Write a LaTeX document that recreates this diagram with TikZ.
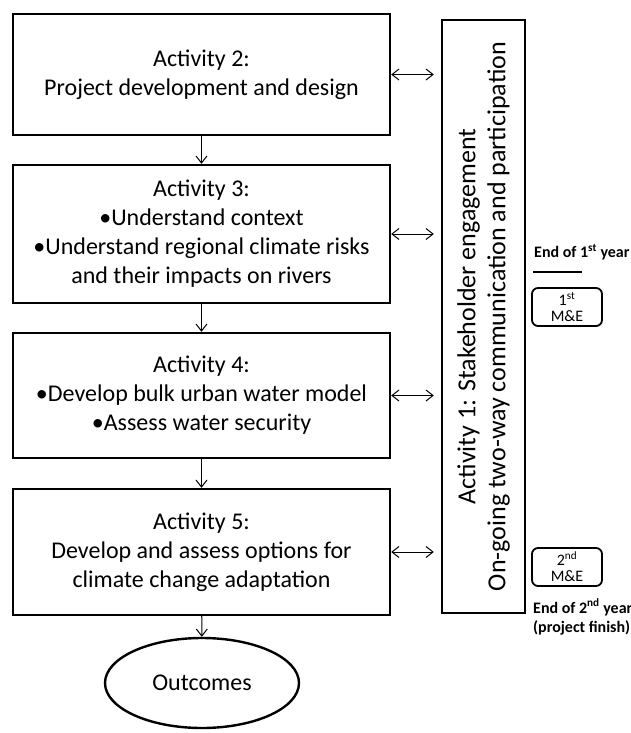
\documentclass[tikz,border=0pt]{standalone}
\usepackage{fontspec}
\setmainfont{Carlito}
\usetikzlibrary{arrows.meta,shapes.geometric}

\begin{document}
\begin{tikzpicture}[%
    x=1pt, y=-1pt,
    actbox/.style={%
        draw,
        line width=2.4pt,
        minimum width=377pt,
        align=center,
        inner sep=0pt,
        font=\fontsize{24}{29}\selectfont,
    },
    mebox/.style={%
        draw,
        rounded corners=6pt,
        line width=1.8pt,
        minimum width=70pt,
        minimum height=38pt,
        align=center,
        inner sep=0pt,
        font=\fontsize{16}{16}\selectfont,
    },
    note/.style={%
        anchor=west,
        align=left,
        inner sep=0pt,
        font=\fontsize{16}{19}\selectfont\bfseries,
    },
    flow/.style={-{Straight Barb[length=7pt,width=11pt]}, line width=1pt},
    both/.style={{Straight Barb[length=7pt,width=11pt]}-{Straight Barb[length=7pt,width=11pt]}, line width=1pt},
]
\useasboundingbox (0,0) rectangle (631,733);

% activities
\node[actbox, minimum height=121pt] (act2) at (201.5,74.5)
    {Activity 2:\\Project development and design};
\node[actbox, minimum height=138pt] (act3) at (201.5,234)
    {Activity 3:\\\textbullet Understand context\\\textbullet Understand regional climate risks\\and their impacts on rivers};
\node[actbox, minimum height=125pt] (act4) at (201.5,395.5)
    {Activity 4:\\\textbullet Develop bulk urban water model\\\textbullet Assess water security};
\node[actbox, minimum height=126pt] (act5) at (201.5,552)
    {Activity 5:\\Develop and assess options for\\climate change adaptation};
\node[draw, ellipse, line width=2.4pt, minimum width=194pt, minimum height=90pt,
      font=\fontsize{24}{29}\selectfont] (out) at (202,683) {Outcomes};

% stakeholder engagement
\node[draw, line width=2.4pt, minimum width=83pt, minimum height=593pt, inner sep=0pt] (stake) at (483.5,316.5) {};
\node[rotate=90, align=center, font=\fontsize{26}{30}\selectfont] (staketxt) at (stake.center)
    {Activity 1: Stakeholder engagement\\On-going two-way communication and participation};

\draw[flow] (act2) -- (act3);
\draw[flow] (act3) -- (act4);
\draw[flow] (act4) -- (act5);
\draw[flow] (act5) -- (out);

\foreach \a in {act2,act3,act4,act5}
    \draw[both] (\a.east) -- ([xshift=-7pt]stake.west |- \a.east);

% monitoring and evaluation
\node[note] (end1) at (534,252) {End of 1\textsuperscript{st} year};
\coordinate (bar1) at (533,272);
\coordinate (bar2) at (582,272);
\draw[line width=2.4pt] (bar1) -- (bar2);
\node[mebox] (me1) at (567,307) {1\textsuperscript{st}\\M\&E};
\node[mebox] (me2) at (567,567) {2\textsuperscript{nd}\\M\&E};
\node[note] (end2) at (533,617) {End of 2\textsuperscript{nd} year\\(project finish)};

\end{tikzpicture}
\end{document}
